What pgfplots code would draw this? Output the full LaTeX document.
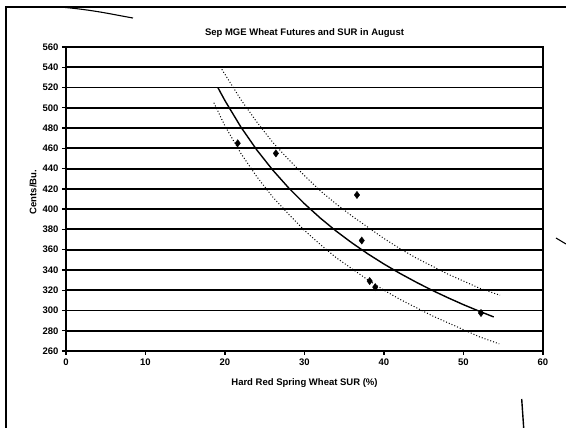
\documentclass[border=0pt]{standalone}
\usepackage{fontspec}
\setmainfont{Liberation Sans}
\usepackage{pgfplots}
\pgfplotsset{compat=1.18}

\begin{document}
\begin{tikzpicture}
\path[use as bounding box] (0,0) rectangle (566pt,428pt);
% page frame and stray strokes from the scan
\draw[line width=1.3pt] (566pt,421pt) -- (6pt,421pt) -- (6pt,0pt);
\draw[line width=1.1pt] (60pt,421pt) .. controls (95pt,418pt) and (115pt,413pt) .. (133pt,410pt);
\draw[line width=1.1pt] (556pt,190pt) -- (566pt,184pt);
\draw[line width=1.4pt] (521.7pt,29pt) -- (523.7pt,0pt);

\begin{axis}[
  at={(66pt,77pt)}, anchor=south west,
  scale only axis, width=477pt, height=304pt,
  xmin=0, xmax=60, ymin=260, ymax=560,
  xtick={0,10,...,60}, ytick={260,280,...,560},
  tick align=outside, xtick pos=bottom, ytick pos=left,
  major tick length=4pt,
  tick style={black, line width=1.3pt},
  axis line style={line width=1.8pt},
  ymajorgrids, grid style={black, line width=1.9pt},
  /pgf/number format/assume math mode=true,
  tick label style={font=\fontsize{9.5}{11}\selectfont\bfseries},
  title={Sep MGE Wheat Futures and SUR in August},
  title style={font=\fontsize{9.5}{11}\selectfont\bfseries, at={(axis description cs:0.5,1)}, anchor=base, yshift=5pt},
  xlabel={Hard Red Spring Wheat SUR (\%)},
  ylabel={Cents/Bu.},
  xlabel style={font=\fontsize{9.5}{11}\selectfont\bfseries, at={(axis description cs:0.5,-0.105)}, anchor=center},
  ylabel style={font=\fontsize{9.5}{11}\selectfont\bfseries, at={(axis description cs:-0.069,0.523)}, anchor=center},
  clip=false,
]
% fitted curve
\addplot[black, line width=1.4pt] coordinates {
  (19.1,520) (20,507) (22,481) (24,458.4) (26,438.6) (28,421) (30,405.3)
  (32,391.1) (34,378.2) (36,366.5) (38,355.7) (40,345.8) (42,336.6)
  (44,328.1) (46,320.1) (48,312.7) (50,305.7) (52,299.2) (53.8,293.6)
};
% upper band
\addplot[black, dotted, line width=1pt] coordinates {
  (19.6,538) (20,533) (22,508) (24,486) (26,466) (28,449) (30,433)
  (32,418) (34,405) (36,393) (38,382) (40,371) (42,361) (44,352)
  (46,344) (48,336) (50,329) (52,322) (54.6,315)
};
% lower band
\addplot[black, dotted, line width=1pt] coordinates {
  (18.6,505) (20,482) (22,455) (24,432) (26,412) (28,395) (30,379)
  (32,365) (34,352) (36,341) (38,330) (40,320) (42,311) (44,303)
  (46,295) (48,288) (50,281) (52,274) (54.5,267)
};
% observations
\addplot[only marks, mark=diamond*, mark size=3.6pt, black] coordinates {
  (21.6,465) (26.4,455) (36.6,414) (37.2,369) (38.2,329) (38.9,323) (52.2,297.5)
};
\end{axis}
\end{tikzpicture}
\end{document}
